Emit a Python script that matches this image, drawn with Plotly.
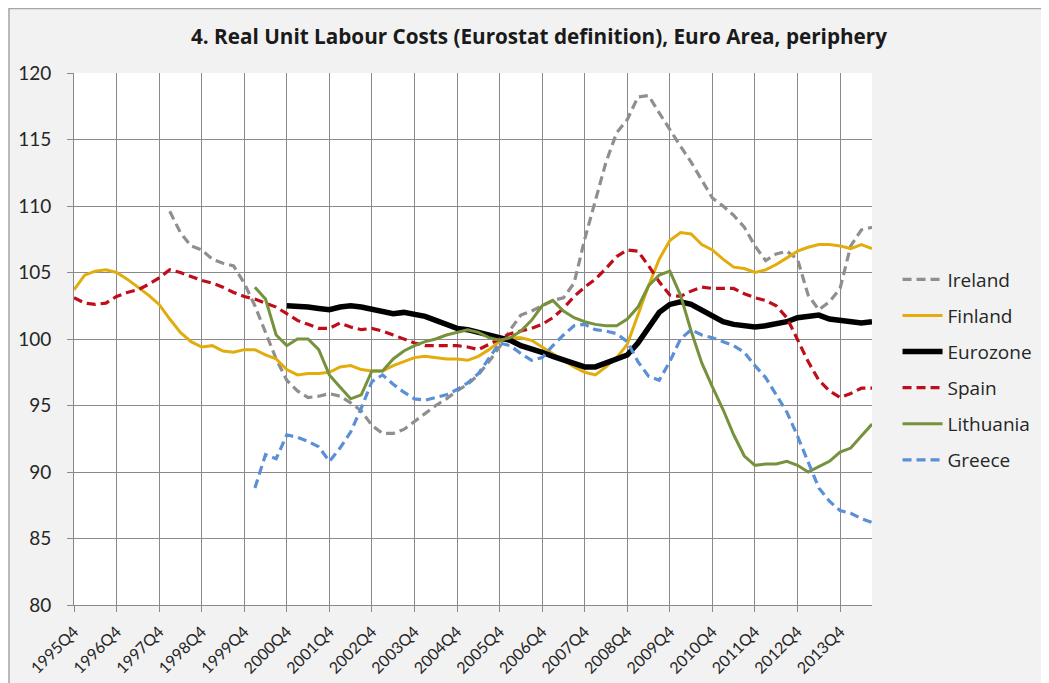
import plotly.graph_objects as go

# Quarters 1995Q4 .. 2014Q3
quarters = ["1995Q4"] + [f"{y}Q{q}" for y in range(1996, 2015) for q in range(1, 5)]
quarters = quarters[:76]
tick_labels = [f"{y}Q4" for y in range(1995, 2014)]

N = None
ireland = [N]*9 + [
    109.6, 108.0, 107.0, 106.7, 106.0, 105.7, 105.5, 104.2, 102.5, 100.5,
    98.5, 96.9, 96.1, 95.6, 95.7, 95.9, 95.7, 95.2, 94.6, 93.5,
    92.9, 92.9, 93.2, 93.8, 94.4, 95.0, 95.5, 96.1, 96.6, 97.3,
    98.3, 99.4, 100.7, 101.8, 102.1, 102.5, 102.9, 103.1, 104.2, 107.5,
    110.5, 113.3, 115.5, 116.5, 118.2, 118.3, 117.0, 115.7, 114.5, 113.3,
    112.0, 110.6, 110.0, 109.3, 108.4, 107.0, 105.9, 106.4, 106.6, 106.0,
    103.3, 102.2, 102.8, 103.8, 107.0, 108.2, 108.4]

finland = [
    103.7, 104.8, 105.1, 105.2, 105.0, 104.5, 103.9, 103.3, 102.6, 101.5,
    100.5, 99.8, 99.4, 99.5, 99.1, 99.0, 99.2, 99.2, 98.8, 98.5,
    97.7, 97.3, 97.4, 97.4, 97.5, 97.9, 98.0, 97.7, 97.6, 97.6,
    98.0, 98.3, 98.6, 98.7, 98.6, 98.5, 98.5, 98.4, 98.7, 99.2,
    99.8, 100.1, 100.1, 99.9, 99.4, 98.9, 98.4, 97.9, 97.5, 97.3,
    97.9, 98.6, 99.6, 101.8, 104.0, 106.0, 107.4, 108.0, 107.9, 107.1,
    106.7, 106.0, 105.4, 105.3, 105.0, 105.2, 105.6, 106.1, 106.6, 106.9,
    107.1, 107.1, 107.0, 106.8, 107.1, 106.8]

eurozone = [N]*20 + [
    102.5, 102.5, 102.4, 102.3, 102.2, 102.4, 102.5, 102.4, 102.2, 102.0,
    101.9, 102.0, 101.9, 101.7, 101.4, 101.1, 100.8, 100.7, 100.5, 100.4,
    100.2, 99.9, 99.5, 99.3, 99.0, 98.7, 98.4, 98.1, 97.9, 97.9,
    98.2, 98.4, 98.8, 99.7, 100.9, 102.0, 102.6, 102.8, 102.6, 102.2,
    101.7, 101.3, 101.1, 101.0, 100.9, 101.0, 101.1, 101.3, 101.6, 101.7,
    101.8, 101.5, 101.4, 101.4, 101.2, 101.3]

spain = [
    103.1, 102.7, 102.6, 102.7, 103.2, 103.5, 103.7, 104.1, 104.6, 105.2,
    105.0, 104.7, 104.4, 104.2, 103.9, 103.5, 103.2, 103.0, 102.7, 102.4,
    101.9, 101.4, 101.1, 100.8, 100.8, 101.2, 100.9, 100.7, 100.8, 100.6,
    100.3, 100.0, 99.7, 99.5, 99.5, 99.5, 99.5, 99.4, 99.2, 99.6,
    100.0, 100.4, 100.6, 100.8, 101.1, 101.6, 102.3, 103.2, 103.9, 104.5,
    105.3, 106.2, 106.7, 106.6, 105.5, 104.3, 103.3, 103.2, 103.6, 103.9,
    103.8, 103.8, 103.8, 103.4, 103.1, 102.9, 102.5, 101.6, 100.0, 98.3,
    96.9, 96.1, 95.6, 95.9, 96.3, 96.3]

lithuania = [N]*17 + [
    103.9, 103.0, 100.3, 99.5, 100.0, 100.0, 99.2, 97.3, 96.4, 95.5,
    95.8, 97.6, 97.6, 98.5, 99.1, 99.5, 99.8, 100.0, 100.3, 100.5,
    100.7, 100.5, 100.1, 99.9, 100.1, 100.6, 101.4, 102.5, 102.9, 102.1,
    101.6, 101.3, 101.1, 101.0, 101.0, 101.5, 102.4, 104.0, 104.8, 105.1,
    103.3, 100.6, 98.2, 96.4, 94.7, 92.8, 91.2, 90.5, 90.6, 90.6,
    90.8, 90.5, 90.0, 90.4, 90.8, 91.5, 91.8, 92.7, 93.6]

greece = [N]*17 + [
    88.8, 91.3, 91.0, 92.8, 92.6, 92.3, 91.9, 90.8, 91.8, 93.0,
    94.8, 96.8, 97.3, 96.6, 96.0, 95.5, 95.4, 95.6, 95.8, 96.2,
    96.7, 97.4, 98.6, 99.7, 99.5, 98.9, 98.4, 98.6, 99.5, 100.3,
    101.0, 101.1, 100.7, 100.6, 100.4, 99.8, 98.3, 97.2, 96.9, 98.3,
    100.0, 100.7, 100.3, 100.1, 99.8, 99.5, 99.0, 98.0, 97.1, 95.8,
    94.5, 92.7, 90.7, 88.8, 87.8, 87.1, 86.9, 86.5, 86.2]

series = [
    ("Ireland", ireland, "#8f8f8f", 3.2, "9px,5px"),
    ("Finland", finland, "#e2ad0c", 3.0, "solid"),
    ("Eurozone", eurozone, "#000000", 5.5, "solid"),
    ("Spain", spain, "#c00d1a", 3.2, "9px,5px"),
    ("Lithuania", lithuania, "#76923c", 3.0, "solid"),
    ("Greece", greece, "#5b8fd6", 3.2, "9px,5px"),
]

TICKFONT = "Lato, 'Open Sans', sans-serif"
TEXTFONT = "'Open Sans', Lato, sans-serif"
fig = go.Figure()
for i, (name, vals, col, w, dash) in enumerate(series):
    fig.add_trace(go.Scatter(
        x=quarters, y=vals, name=name, mode="lines",
        line=dict(color=col, width=w, dash=dash),
        connectgaps=False, legendgroup=f"g{i}"))

GRID = "#8a8a8a"
L, T, R, B = 66, 65, 185, 86
PW, PH = 1049 - L - R, 683 - T - B

fig.update_layout(
    width=1049, height=683,
    margin=dict(l=L, r=R, t=T, b=B, autoexpand=False),
    paper_bgcolor="#f2f2f2", plot_bgcolor="#ffffff",
    font=dict(family=TICKFONT, color="#222222"),
    title=dict(text="<b>4. Real Unit Labour Costs (Eurostat definition), Euro Area, periphery</b>",
               x=531 / 1049, xanchor="center", y=1 - 29 / 683, yanchor="middle",
               font=dict(size=20.7, family=TEXTFONT, color="#1a1a1a")),
    showlegend=True,
    legend=dict(x=1.032, xanchor="left", y=0.6475, yanchor="top",
                font=dict(size=19, family=TEXTFONT, color="#262626"),
                bgcolor="rgba(0,0,0,0)", tracegroupgap=8.4, itemwidth=40),
    xaxis=dict(type="category", range=[0, 75], tickmode="array",
               tickvals=tick_labels, ticktext=tick_labels, tickangle=-45,
               showgrid=True, gridcolor=GRID, gridwidth=1,
               showline=True, linecolor=GRID, linewidth=1,
               ticks="outside", ticklen=6, tickcolor=GRID,
               ticklabelstandoff=4, automargin=False,
               tickfont=dict(size=16, family=TICKFONT, color="#262626"),
               zeroline=False),
    yaxis=dict(range=[80, 120], tickmode="array", tickvals=list(range(80, 121, 5)),
               showgrid=True, gridcolor=GRID, gridwidth=1,
               showline=True, linecolor=GRID, linewidth=1,
               ticks="outside", ticklen=6, tickcolor=GRID,
               ticklabelstandoff=12, automargin=False,
               tickfont=dict(size=19, family=TICKFONT, color="#262626"),
               zeroline=False),
)

# outer chart border
fig.add_shape(type="rect", xref="paper", yref="paper",
              x0=(1 - L) / PW, x1=(1039 - L) / PW,
              y0=(T + PH - 720) / PH, y1=(T + PH - 0.5) / PH,
              line=dict(color="#a6a6a6", width=1.5), fillcolor="rgba(0,0,0,0)", layer="below")

fig.write_html("out.html")
